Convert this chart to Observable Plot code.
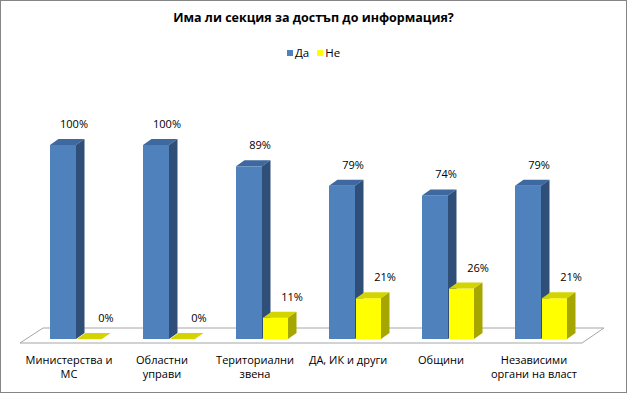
<!DOCTYPE html>
<html>
<head>
<meta charset="utf-8">
<script src="https://cdn.jsdelivr.net/npm/d3@7"></script>
<script src="https://cdn.jsdelivr.net/npm/@observablehq/plot@0.6"></script>
<style>
  body { margin: 0; background: #fff; }
  #wrap { position: relative; width: 627px; height: 394px; overflow: hidden; font-family: "Open Sans", "Noto Sans", sans-serif; color: #000; }
  #frame { position: absolute; left: 0; top: 0; width: 627px; height: 393px; box-sizing: border-box; border: 1.5px solid #868686; pointer-events: none; }
  #title { height: 36px; line-height: 36px; text-align: center; font-weight: bold; font-size: 12.5px; }
  #legend { height: 34px; line-height: 34px; text-align: center; font-size: 11.5px; }
  #legend .sw { display: inline-block; width: 6px; height: 6px; margin-right: 2px; vertical-align: 1px; }
  #legend .item { margin: 0 4px; }
  #chart svg { display: block; }
</style>
</head>
<body>
<div id="wrap">
  <div id="title"></div>
  <div id="legend"></div>
  <div id="chart"></div>
  <div id="frame"></div>
</div>
<script>
const titleText = "Има ли секция за достъп до информация?";
const categories = ["Министерства и МС", "Областни управи", "Териториални звена", "ДА, ИК и други", "Общини", "Независими органи на власт"];
const tickLabels = ["Министерства и\nМС", "Областни\nуправи", "Териториални\nзвена", "ДА, ИК и други", "Общини", "Независими\nоргани на власт"];
const seriesNames = ["Да", "Не"];
const yesValues = [100, 100, 89, 79, 74, 79];
const noValues = [0, 0, 11, 21, 26, 21];

const frontColors = ["#4f81bd", "#ffff00"];
const topColors = ["#3d68a0", "#d4d400"];
const sideColors = ["#2f4e78", "#a6a600"];

const rows = categories.map((c, i) => ({cat: c, label: tickLabels[i], yes: yesValues[i], no: noValues[i]}));

document.getElementById("title").textContent = titleText;
const legend = document.getElementById("legend");
seriesNames.forEach((s, i) => {
  const item = document.createElement("span");
  item.className = "item";
  const sw = document.createElement("span");
  sw.className = "sw";
  sw.style.background = frontColors[i];
  item.appendChild(sw);
  item.appendChild(document.createTextNode(s));
  legend.appendChild(item);
});

const D = 8.5, E = 6; // depth offsets (px)
const blueInset = [28, 39];
const yellowInset = [55, 13];

function faces(key, inset, topColor, sideColor) {
  return (index, scales) => {
    const {x, y} = scales;
    const bw = x.bandwidth();
    const g = d3.create("svg:g");
    rows.forEach(r => {
      const bx = x(r.cat);
      const xa = bx + inset[0], xb = bx + bw - inset[1];
      const yt = y(r[key]), yb = y(0);
      g.append("path")
        .attr("d", `M${xa},${yt}L${xb},${yt}L${xb + D},${yt - E}L${xa + D},${yt - E}Z`)
        .attr("fill", topColor);
      g.append("path")
        .attr("d", `M${xb},${yb}L${xb},${yt}L${xb + D},${yt - E}L${xb + D},${yb - E}Z`)
        .attr("fill", sideColor);
    });
    return g.node();
  };
}

function floor(index, scales) {
  const {x, y} = scales;
  const [r0, r1] = x.range();
  const y0 = y(0) + 4;
  return d3.create("svg:path")
    .attr("d", `M${r0},${y0}L${r1},${y0}L${r1 + 22},${y0 - 15}L${r0 + 23},${y0 - 15}Z`)
    .attr("fill", "#fff")
    .attr("stroke", "#a6a6a6")
    .attr("stroke-width", 1)
    .node();
}

const plot = Plot.plot({
  width: 627,
  height: 324,
  marginLeft: 20,
  marginRight: 45,
  marginTop: 75,
  marginBottom: 55,
  style: {fontFamily: "'Open Sans', 'Noto Sans', sans-serif", fontSize: "11px", color: "#000", background: "transparent"},
  x: {type: "band", domain: categories, padding: 0, axis: null},
  y: {domain: [0, 100], axis: null},
  marks: [
    floor,
    Plot.barY(rows, {x: "cat", y: "yes", fill: frontColors[0], insetLeft: blueInset[0], insetRight: blueInset[1]}),
    faces("yes", blueInset, topColors[0], sideColors[0]),
    Plot.barY(rows, {x: "cat", y: "no", fill: frontColors[1], insetLeft: yellowInset[0], insetRight: yellowInset[1]}),
    faces("no", yellowInset, topColors[1], sideColors[1]),
    Plot.text(rows, {x: "cat", y: "yes", text: d => d.yes + "%", dx: 5, dy: -21, fill: "#000"}),
    Plot.text(rows, {x: "cat", y: "no", text: d => d.no + "%", dx: 37, dy: -21, fill: "#000"}),
    Plot.text(rows, {x: "cat", y: () => 0, text: "label", dy: 14.5, lineAnchor: "top", lineHeight: 1.27, fill: "#000"})
  ]
});
document.getElementById("chart").appendChild(plot);
</script>
</body>
</html>
